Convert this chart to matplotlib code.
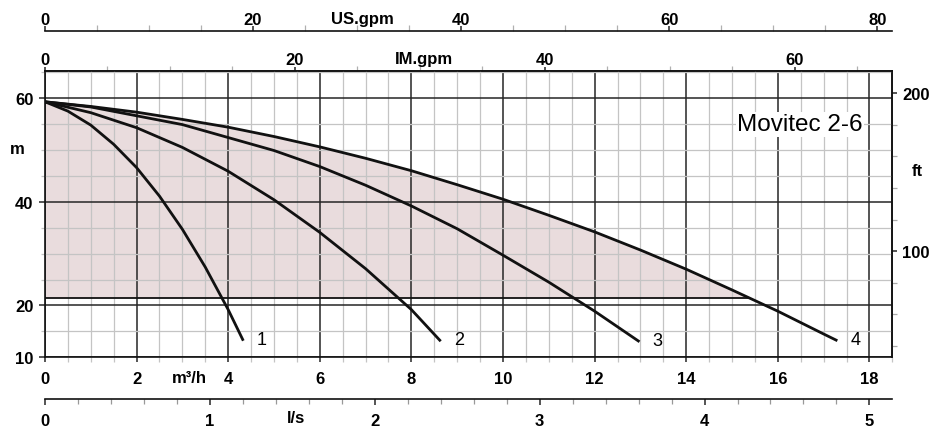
import matplotlib
matplotlib.use("Agg")
import matplotlib.pyplot as plt
from matplotlib.ticker import MultipleLocator, FixedLocator

plt.rcParams['font.family'] = ['Liberation Sans', 'DejaVu Sans']
plt.rcParams['font.weight'] = 'bold'

# pump curves, flow in m3/h, head in m
flow_1 = [0, 0.5, 1, 1.5, 2, 2.5, 3, 3.5, 4, 4.33]
head_1 = [59.3, 57.5, 54.8, 51.1, 46.6, 41.1, 34.7, 27.4, 19.2, 13.2]

flow_2 = [0, 1, 2, 3, 4, 5, 6, 7, 8, 8.64]
head_2 = [59.3, 57.2, 54.3, 50.5, 45.9, 40.4, 34.1, 27.1, 19.2, 13.1]

flow_3 = [0, 1, 2, 3, 4, 5, 6, 7, 8, 9, 10, 11, 12, 12.98]
head_3 = [59.3, 58.3, 56.6, 54.9, 52.4, 49.9, 46.8, 43.2, 39.2, 34.8, 29.7, 24.5, 18.9, 13.0]

flow_4 = [0, 1, 2, 3, 4, 5, 6, 7, 8, 9, 10, 11, 12, 13, 14, 15, 16, 17, 17.3]
head_4 = [59.3, 58.4, 57.3, 55.9, 54.4, 52.6, 50.6, 48.4, 46.0, 43.3, 40.5, 37.4,
          34.2, 30.7, 27.0, 23.0, 18.9, 14.5, 13.2]

curve_names = ['1', '2', '3', '4']

# working range (shaded) lower limit
shade_floor = 21.5

# tick values of the scales
m_ticks = [10, 20, 40, 60]
us_ticks = [0, 20, 40, 60, 80]
im_ticks = [0, 20, 40, 60]
ls_ticks = [0, 1, 2, 3, 4, 5]
ft_ticks = [100, 200]

# unit factors
US_GPM = 4.4029
IM_GPM = 3.6662
LPS = 1 / 3.6
FT = 3.28084

MAJOR = '#262626'
MINOR = '#c4c4c4'

fig = plt.figure(figsize=(9.33, 4.35), dpi=100)
ax = fig.add_axes([0.0482, 0.1763, 0.9082, 0.6589])
ax.set_xlim(0, 18.5)
ax.set_ylim(10, 65.3)

ax.xaxis.set_major_locator(MultipleLocator(2))
ax.xaxis.set_minor_locator(MultipleLocator(0.5))
ax.yaxis.set_major_locator(FixedLocator(m_ticks))
ax.yaxis.set_minor_locator(MultipleLocator(5))
ax.set_axisbelow(True)
ax.grid(which='minor', color=MINOR, lw=0.9)
ax.grid(which='major', color=MAJOR, lw=1.1)

ax.tick_params(top=False, right=False, direction='out', labelsize=12)
ax.tick_params(axis='x', which='major', length=3.5, width=1.1, color=MAJOR, pad=6.6)
ax.tick_params(axis='x', which='minor', length=3.5, width=0.9, color=MINOR)
ax.tick_params(axis='y', which='major', length=4, width=1.1, color=MAJOR, pad=4.4)
ax.tick_params(axis='y', which='minor', length=3, width=0.9, color=MINOR)
for s in ax.spines.values():
    s.set_linewidth(1.2)
    s.set_color('#111111')

# shaded working area
ax.fill_between(flow_4, head_4, shade_floor, where=[h >= shade_floor for h in head_4],
                interpolate=True, color='#e9dcdd', lw=0, zorder=0.3)
# bottom edge of the shaded area, up to where curve 4 crosses it
cross = None
for i in range(1, len(head_4)):
    if head_4[i] < shade_floor <= head_4[i - 1]:
        f = (head_4[i - 1] - shade_floor) / (head_4[i - 1] - head_4[i])
        cross = flow_4[i - 1] + f * (flow_4[i] - flow_4[i - 1])
ax.plot([0, cross], [shade_floor, shade_floor], color='#111111', lw=1.3, zorder=1)

curves = [(flow_1, head_1), (flow_2, head_2), (flow_3, head_3), (flow_4, head_4)]
for (q, h), name in zip(curves, curve_names):
    ax.plot(q, h, color='#111111', lw=2.0, zorder=2, solid_capstyle='butt')
    ax.annotate(name, (q[-1], h[-1]), xytext=(13, 1), textcoords='offset points',
                ha='center', va='center', fontsize=13, fontweight='normal')

ax.text(16.48, 55.0, 'Movitec 2-6', fontsize=17.5, fontweight='normal',
        ha='center', va='center', zorder=3,
        bbox=dict(facecolor='white', edgecolor='none', pad=1))

# extra scales
us = ax.secondary_xaxis(1.1385, functions=(lambda q: q * US_GPM, lambda g: g / US_GPM))
us.xaxis.set_major_locator(FixedLocator(us_ticks))
us.xaxis.set_minor_locator(MultipleLocator(5))
us.tick_params(which='major', length=3.6, width=1.1, color=MAJOR, pad=-0.5, labelsize=12)
us.tick_params(which='minor', length=4, width=0.9, color='#b0b0b0')

im = ax.secondary_xaxis('top', functions=(lambda q: q * IM_GPM, lambda g: g / IM_GPM))
im.xaxis.set_major_locator(FixedLocator(im_ticks))
im.xaxis.set_minor_locator(MultipleLocator(5))
im.tick_params(which='major', length=3, width=1.1, color=MAJOR, pad=-0.5, labelsize=12)
im.tick_params(which='minor', length=3.5, width=0.9, color='#b0b0b0')

ls = ax.secondary_xaxis(-0.1455, functions=(lambda q: q * LPS, lambda v: v / LPS))
ls.xaxis.set_major_locator(FixedLocator(ls_ticks))
ls.xaxis.set_minor_locator(MultipleLocator(0.2))
ls.tick_params(which='major', length=4.3, width=1.1, color=MAJOR, pad=5.5, labelsize=12)
ls.tick_params(which='minor', length=3.5, width=0.9, color='#999999')

ft = ax.secondary_yaxis('right', functions=(lambda m: m * FT, lambda f: f / FT))
ft.yaxis.set_major_locator(FixedLocator(ft_ticks))
ft.yaxis.set_minor_locator(MultipleLocator(20))
ft.tick_params(which='major', length=3.5, width=1.1, color=MAJOR, pad=3.5, labelsize=12)
ft.tick_params(which='minor', length=3.5, width=0.9, color='#aaaaaa')

for sec in (us, im, ls, ft):
    for s in sec.spines.values():
        s.set_linewidth(1.2)
        s.set_color('#111111')

# unit labels
unit_kw = dict(transform=ax.transAxes, ha='center', va='center', fontsize=12)
ax.text(0.374, 1.183, 'US.gpm', **unit_kw)
ax.text(0.447, 1.044, 'IM.gpm', **unit_kw)
ax.text(0.170, -0.069, 'm³/h', **unit_kw)
ax.text(0.296, -0.209, 'l/s', **unit_kw)
ax.text(-0.033, 0.727, 'm', **unit_kw)
ax.text(1.029, 0.651, 'ft', **unit_kw)

fig.savefig('out.png', dpi=100)
